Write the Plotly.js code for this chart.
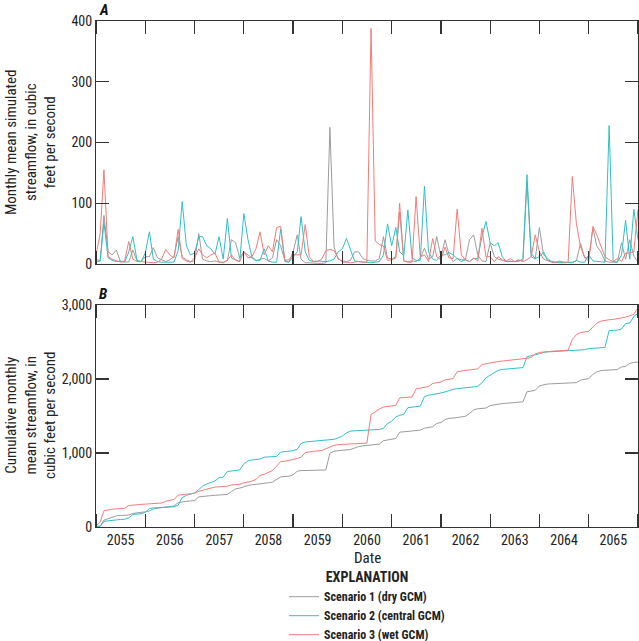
<!DOCTYPE html>
<html>
<head>
<meta charset="utf-8">
<script src="https://cdn.plot.ly/plotly-3.0.1.min.js"></script>
<style>
html,body{margin:0;padding:0;background:#fff;}
#chart{width:639px;height:641px;}
</style>
</head>
<body>
<div id="chart"></div>
<script>
// ---------------- DATA ----------------
const firstYear = 2055;
const monthCount = 133; // Jan 2055 .. Jan 2066
const yearLabels = ['2055','2056','2057','2058','2059','2060','2061','2062','2063','2064','2065'];
const scenarioNames = ['Scenario 1 (dry GCM)', 'Scenario 2 (central GCM)', 'Scenario 3 (wet GCM)'];

// Monthly mean simulated streamflow, cubic feet per second
const dryGCM = [
  8, 5, 80, 20, 15, 23, 4, 3, 3, 23, 5, 4,
  12, 12, 27, 10, 7, 4, 7, 12, 45, 12, 7, 4,
  5, 50, 8, 5, 4, 5, 3, 2, 6, 40, 35, 10,
  20, 15, 10, 5, 8, 9, 5, 10, 40, 30, 6, 3,
  20, 48, 8, 2, 2, 1, 1, 1, 2, 225, 28, 8,
  5, 4, 6, 20, 20, 9, 6, 5, 5, 9, 45, 10,
  8, 12, 85, 5, 4, 5, 4, 10, 26, 8, 12, 45,
  12, 40, 16, 4, 9, 7, 7, 40, 48, 15, 5, 4,
  35, 12, 8, 6, 4, 5, 4, 6, 5, 135, 12, 8,
  60, 15, 10, 3, 2, 2, 2, 2, 3, 5, 34, 10,
  10, 59, 30, 20, 5, 3, 3, 3, 35, 8, 40, 13,
  3
];
const centralGCM = [
  3, 5, 68, 10, 6, 4, 5, 3, 20, 45, 6, 4,
  18, 53, 8, 4, 3, 3, 2, 3, 22, 103, 30, 15,
  18, 45, 45, 30, 25, 16, 45, 8, 75, 10, 7, 4,
  83, 40, 12, 6, 6, 25, 5, 3, 3, 58, 4, 3,
  12, 20, 78, 20, 6, 4, 5, 4, 4, 5, 8, 20,
  25, 42, 23, 5, 4, 3, 2, 2, 3, 4, 15, 66,
  30, 60, 20, 14, 89, 10, 6, 6, 128, 20, 8, 6,
  15, 15, 19, 15, 9, 4, 7, 4, 9, 9, 45, 70,
  35, 30, 35, 12, 4, 4, 4, 4, 9, 147, 18, 9,
  12, 20, 6, 4, 3, 3, 3, 3, 2, 6, 3, 3,
  15, 5, 4, 3, 3, 228, 4, 3, 15, 72, 8, 90,
  40
];
const wetGCM = [
  15, 50, 155, 12, 8, 5, 3, 5, 37, 8, 4, 4,
  3, 2, 2, 3, 8, 24, 15, 10, 57, 9, 5, 3,
  10, 25, 15, 10, 15, 18, 3, 3, 6, 15, 6, 4,
  20, 10, 12, 25, 53, 15, 30, 20, 60, 62, 6, 7,
  15, 15, 15, 65, 12, 4, 4, 8, 22, 24, 22, 10,
  3, 3, 2, 3, 4, 3, 3, 388, 38, 32, 30, 6,
  7, 10, 100, 5, 3, 3, 111, 12, 15, 4, 42, 12,
  7, 28, 10, 9, 90, 15, 7, 4, 10, 5, 59, 12,
  12, 4, 12, 7, 5, 9, 4, 7, 4, 7, 12, 48,
  20, 8, 5, 3, 3, 5, 3, 3, 144, 67, 28, 12,
  4, 62, 48, 28, 12, 7, 4, 9, 4, 18, 18, 20,
  90
];

// ---------------- BUILD ----------------
const FONT = "'Liberation Sans Narrow', 'Roboto Condensed', 'DejaVu Sans Condensed', 'Arial Narrow', sans-serif";
const colors = ['#9c9c9c', '#2fc0c6', '#f47c78'];
const series = [dryGCM, centralGCM, wetGCM];

const dates = [];
for (let i = 0; i < monthCount; i++) {
  const y = firstYear + Math.floor(i / 12);
  const m = (i % 12) + 1;
  dates.push(y + '-' + String(m).padStart(2, '0') + '-01');
}
function cumulative(arr) {
  const out = []; let s = 0;
  for (const v of arr) { s += v; out.push(s); }
  return out;
}

const traces = [];
series.forEach((vals, k) => {
  traces.push({
    x: dates, y: vals, xaxis: 'x', yaxis: 'y', type: 'scatter', mode: 'lines',
    name: '<b>' + scenarioNames[k] + '</b>',
    line: {color: colors[k], width: 1},
    showlegend: true, hoverinfo: 'skip'
  });
});
series.forEach((vals, k) => {
  traces.push({
    x: dates, y: cumulative(vals), xaxis: 'x2', yaxis: 'y2', type: 'scatter', mode: 'lines',
    name: scenarioNames[k], line: {color: colors[k], width: 1},
    showlegend: false, hoverinfo: 'skip'
  });
});

const xRange = [dates[0], dates[dates.length - 1]];
const tickFont = {family: FONT, size: 14, color: '#222'};
const baseX = {
  type: 'date', range: xRange, dtick: 'M12', tick0: firstYear + '-01-01',
  ticklabelmode: 'period', tickformat: '%Y',
  ticks: 'inside', ticklen: 13, tickwidth: 1.2, tickcolor: '#333',
  showline: true, linecolor: '#333', linewidth: 1, mirror: 'allticks',
  showgrid: false, zeroline: false, tickfont: tickFont, fixedrange: true
};
const baseY = {
  ticks: 'inside', ticklen: 13, tickwidth: 1.2, tickcolor: '#333',
  showline: true, linecolor: '#333', linewidth: 1, mirror: 'allticks',
  showgrid: false, zeroline: false, tickfont: tickFont, fixedrange: true
};

// plot area px: left 96, right 638; top panel 21-264, bottom panel 305-527
const H = 641, T = 21, B = 114;
const ph = H - T - B;
const py = px => (H - B - px) / ph;
const pxX = px => (px - 96) / 542;

const layout = {
  width: 639, height: 641,
  margin: {l: 96, r: 1, t: T, b: B, pad: 0, autoexpand: false},
  paper_bgcolor: '#fff', plot_bgcolor: '#fff',
  font: {family: FONT, size: 14, color: '#222'},
  hovermode: false,
  xaxis: Object.assign({}, baseX, {anchor: 'y', domain: [0, 1], showticklabels: false}),
  yaxis: Object.assign({}, baseY, {anchor: 'x', domain: [py(264), 1], range: [0, 400], dtick: 100}),
  xaxis2: Object.assign({}, baseX, {anchor: 'y2', domain: [0, 1], matches: 'x', showticklabels: true}),
  yaxis2: Object.assign({}, baseY, {anchor: 'x2', domain: [0, py(305)], range: [0, 3000], dtick: 1000, tickformat: ',d'}),
  showlegend: true,
  legend: {
    x: 0.5, xanchor: 'center', y: py(564), yanchor: 'top',
    orientation: 'v', bgcolor: 'rgba(0,0,0,0)',
    font: {family: FONT, size: 12, color: '#222'},
    title: {text: '<b>EXPLANATION</b>', side: 'top center', font: {family: FONT, size: 14, color: '#222'}},
    tracegroupgap: 0
  },
  annotations: [
    {text: '<b><i>A</i></b>', xref: 'paper', yref: 'paper', x: pxX(97), y: py(10), xanchor: 'left', yanchor: 'middle', showarrow: false, font: {family: FONT, size: 15, color: '#111'}},
    {text: '<b><i>B</i></b>', xref: 'paper', yref: 'paper', x: pxX(97), y: py(294), xanchor: 'left', yanchor: 'middle', showarrow: false, font: {family: FONT, size: 15, color: '#111'}},
    {text: 'Monthly mean simulated<br>streamflow, in cubic<br>feet per second', xref: 'paper', yref: 'paper', x: pxX(31), y: py(142), xanchor: 'center', yanchor: 'middle', textangle: -90, showarrow: false, font: {family: FONT, size: 15, color: '#222'}},
    {text: 'Cumulative monthly<br>mean streamflow, in<br>cubic feet per second', xref: 'paper', yref: 'paper', x: pxX(31), y: py(416), xanchor: 'center', yanchor: 'middle', textangle: -90, showarrow: false, font: {family: FONT, size: 15, color: '#222'}},
    {text: 'Date', xref: 'paper', yref: 'paper', x: pxX(367), y: py(558), xanchor: 'center', yanchor: 'middle', showarrow: false, font: {family: FONT, size: 15, color: '#222'}}
  ]
};

Plotly.newPlot('chart', traces, layout, {staticPlot: true, displayModeBar: false});
</script>
</body>
</html>
